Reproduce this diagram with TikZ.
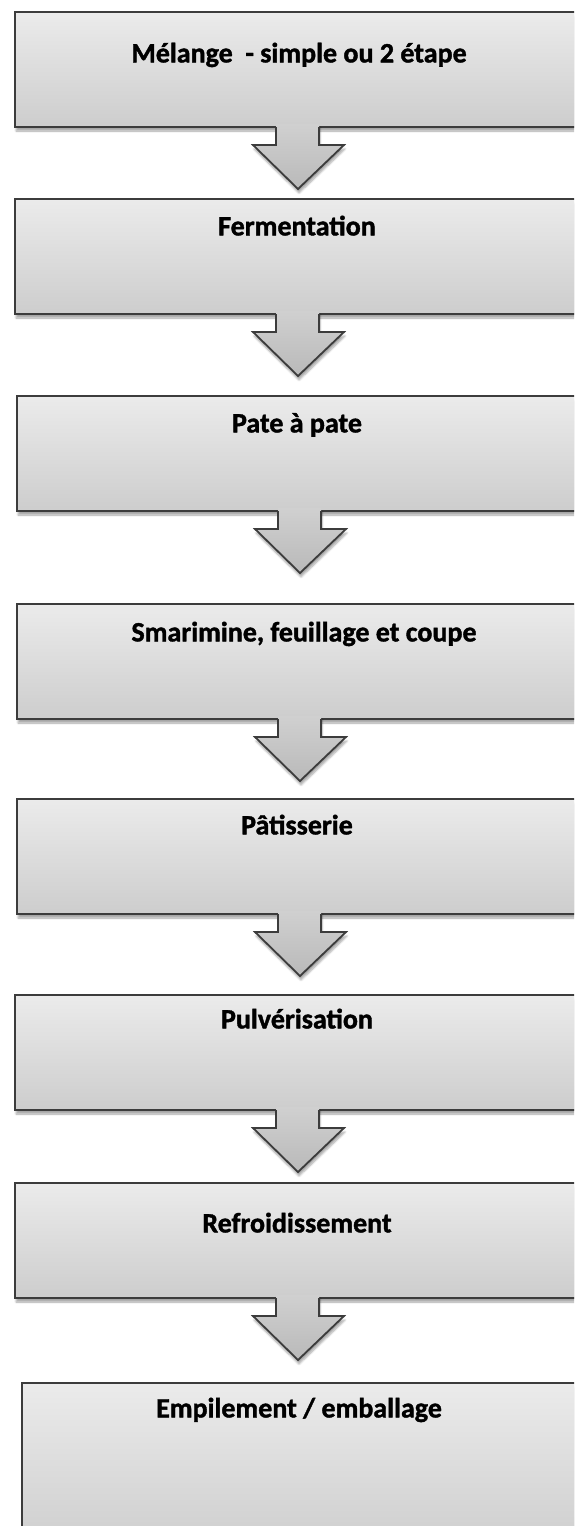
\documentclass[tikz,border=0pt]{standalone}
\usepackage{fontspec}
\setmainfont{Carlito}[BoldFeatures={FakeBold=1.4}]
\usetikzlibrary{calc,shadows.blur}

\definecolor{boxline}{HTML}{3C3C3C}
\definecolor{boxtop}{HTML}{EBEBEB}
\definecolor{boxbot}{HTML}{CDCDCD}
\definecolor{arrtop}{HTML}{D0D0D0}
\definecolor{arrbot}{HTML}{B9B9B9}

% downward arrow hanging from the bottom edge of a stage box
\newcommand\stagearrow[1]{%
  \begin{scope}[shift={(#1.south)}, xshift=-2pt]
    \path[arrowbody] (-22,-3) -- (-22,18) -- (-45,18) -- (0,62) -- (46,18)
      -- (21,18) -- (21,-3) -- cycle;
    \draw[arrowedge] (-22,0) -- (-22,18) -- (-45,18) -- (0,62) -- (46,18)
      -- (21,18) -- (21,0);
  \end{scope}}

\begin{document}
\begin{tikzpicture}[x=1pt, y=-1pt,
  stage/.style={draw=boxline, line width=2.4pt, top color=boxtop,
    bottom color=boxbot, minimum width=570pt, minimum height=115pt,
    anchor=north west, inner sep=0pt, outer sep=0pt,
    blur shadow={shadow xshift=1pt, shadow yshift=-4pt,
      shadow blur steps=6, shadow opacity=35}},
  caption/.style={font=\bfseries\fontsize{28}{32}\selectfont, anchor=mid},
  arrowbody/.style={top color=arrtop, bottom color=arrbot,
    blur shadow={shadow xshift=1pt, shadow yshift=-4pt,
      shadow blur steps=6, shadow opacity=35}},
  arrowedge/.style={draw=boxline, line width=1.8pt, line join=miter}
]
\useasboundingbox (0,0) rectangle (574,1526);
\clip (0,0) rectangle (574,1526);

% stage boxes
\node[stage] (b1) at (15,12)   {};
\node[stage] (b2) at (15,199)  {};
\node[stage] (b3) at (17,396)  {};
\node[stage] (b4) at (17,604)  {};
\node[stage] (b5) at (17,799)  {};
\node[stage] (b6) at (15,995)  {};
\node[stage] (b7) at (15,1183) {};
\node[stage, minimum height=170pt] (b8) at (22,1383) {};

% connecting arrows
\stagearrow{b1}
\stagearrow{b2}
\stagearrow{b3}
\stagearrow{b4}
\stagearrow{b5}
\stagearrow{b6}
\stagearrow{b7}

% stage names
\node[caption] (t1) at (299,60)   {Mélange\ \ - simple ou 2 étape};
\node[caption] (t2) at (297,233)  {Fermentation};
\node[caption] (t3) at (297,430)  {Pate à pate};
\node[caption] (t4) at (304,639)  {Smarimine, feuillage et coupe};
\node[caption] (t5) at (297,832)  {Pâtisserie};
\node[caption] (t6) at (297,1026) {Pulvérisation};
\node[caption] (t7) at (297,1230) {Refroidissement};
\node[caption] (t8) at (299,1415) {Empilement / emballage};
\end{tikzpicture}
\end{document}
